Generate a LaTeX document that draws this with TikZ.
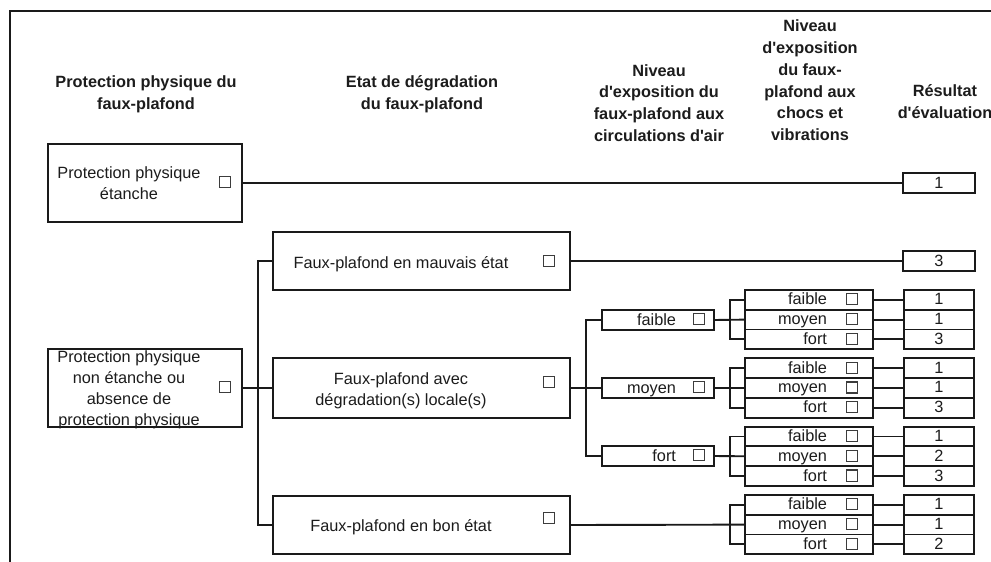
\documentclass[tikz,border=0pt]{standalone}
\usepackage{fontspec}
\setmainfont{Liberation Sans}[Ligatures=TeXOff]
\definecolor{ln}{HTML}{1A1A1A}
\definecolor{tx}{HTML}{1C1C1C}
\begin{document}
\begin{tikzpicture}[x=1pt,y=-1pt,
  every node/.style={inner sep=0pt, outer sep=0pt},
  lnk/.style={line width=1.9pt, draw=ln},
  box/.style={draw=ln, line width=1.9pt, fill=white},
  hdr/.style={font=\bfseries\fontsize{16.3}{21.7}\selectfont, align=center, text=tx, yshift=-3.5pt,
    execute at begin node=\strut, execute at end node=\strut},
  txt/.style={font=\fontsize{16.3}{21}\selectfont, align=center, text=tx, yshift=-3pt,
    execute at begin node=\strut, execute at end node=\strut},
  lbl/.style={font=\fontsize{16.3}{21}\selectfont, text=tx, text height=12pt, text depth=2pt},
  sq/.style={draw=ln!85, line width=1.1pt, minimum size=11pt},
  bigbox/.style={box, minimum width=194pt, minimum height=78pt},
  midbox/.style={box, minimum width=297pt},
  cbox/.style={box, minimum width=112pt, minimum height=20pt},
  rowbox/.style={box, minimum width=128pt, minimum height=19.75pt},
  resbox/.style={box, lbl, minimum width=70pt, minimum height=19.75pt},
]
\useasboundingbox (0,0) rectangle (991,562);
\fill[white] (0,0) rectangle (991,562);
% outer frame
\draw[line width=1.9pt, draw=ln] (10,580) -- (10,11) -- (1010,11);

% headers
\node[hdr] (hProt) at (146,92.5) {Protection physique du\\faux-plafond};
\node[hdr] (hEtat) at (422,92.5) {Etat de d\'egradation\\du faux-plafond};
\node[hdr] (hCirc) at (659,102.5) {Niveau\\d'exposition du\\faux-plafond aux\\circulations d'air};
\node[hdr] (hChoc) at (810,80) {Niveau\\d'exposition\\du faux-\\plafond aux\\chocs et\\vibrations};
\node[hdr] (hRes) at (945,101.5) {R\'esultat\\d'\'evaluation};

% level 1
\node[bigbox] (etanche) at (145,183) {};
\node[txt] (tEtanche) at (129,183) {Protection physique\\\'etanche};
\node[sq] (qEtanche) at (225,182) {};
\node[bigbox] (nonEtanche) at (145,388) {};
\node[txt] (tNonEtanche) at (129,388.5) {Protection physique\\non \'etanche ou\\absence de\\protection physique};
\node[sq] (qNonEtanche) at (225,387) {};

% level 2
\node[midbox, minimum height=58pt] (mauvais) at (421.5,261) {};
\node[txt] (tMauvais) at (401,261) {Faux-plafond en mauvais \'etat};
\node[sq] (qMauvais) at (549,261) {};
\node[midbox, minimum height=60pt] (locale) at (421.5,388) {};
\node[txt] (tLocale) at (401,389) {Faux-plafond avec\\d\'egradation(s) locale(s)};
\node[sq] (qLocale) at (549,382) {};
\node[midbox, minimum height=58pt] (bon) at (421.5,525) {};
\node[txt] (tBon) at (401,524) {Faux-plafond en bon \'etat};
\node[sq] (qBon) at (549,518) {};

% level 3 (circulations d'air)
\node[cbox] (cfai) at (658,320) {};
\node[lbl, anchor=east] (tcfai) at (676,320) {faible};
\node[sq] (qcfai) at (699,319) {};
\node[cbox] (cmoy) at (658,388) {};
\node[lbl, anchor=east] (tcmoy) at (676,388) {moyen};
\node[sq] (qcmoy) at (699,387) {};
\node[cbox] (cfor) at (658,456) {};
\node[lbl, anchor=east] (tcfor) at (676,456) {fort};
\node[sq] (qcfor) at (699,455) {};

% standalone results
\node[resbox, minimum width=72pt, minimum height=20pt] (r1) at (939,183) {1};
\node[resbox, minimum width=72pt, minimum height=20pt] (r3) at (939,261) {3};

% level 4 groups and results
\foreach \g/\t/\a/\b/\c in {1/290/1/1/3, 2/358.33/1/1/3, 3/426.67/1/2/3, 4/495/1/1/2}{
  \foreach \r/\lab/\v in {0/faible/\a, 1/moyen/\b, 2/fort/\c}{
    \pgfmathsetmacro\yy{\t+9.875+19.75*\r}
    \node[rowbox] (s\g\r) at (809,\yy) {};
    \node[lbl, anchor=east] (l\g\r) at (827,\yy) {\lab};
    \node[sq] (q\g\r) at (852,\yy-0.5) {};
    \node[resbox] (v\g\r) at (939,\yy) {\v};
    \draw[lnk] (s\g\r.east) -- (v\g\r.west);
  }
  \draw[lnk] (s\g0.west) -- ++(-15,0) |- (s\g2.west);
}

% connectors
\draw[lnk] (etanche.east) -- (r1.west);
\draw[lnk] (mauvais.east) -- (r3.west);
\draw[lnk] (nonEtanche.east) -- (locale.west);
\draw[lnk] (mauvais.west) -- ++(-15,0) |- (bon.west);
\draw[lnk] (locale.east) -- (cmoy.west);
\draw[lnk] (cfai.west) -- ++(-16,0) |- (cfor.west);
\draw[lnk] (cfai.east) -- (s11.west);
\draw[lnk] (cmoy.east) -- (s21.west);
\draw[lnk] (cfor.east) -- (s31.west);
\draw[lnk] (bon.east) -- (s41.west);
\end{tikzpicture}
\end{document}
